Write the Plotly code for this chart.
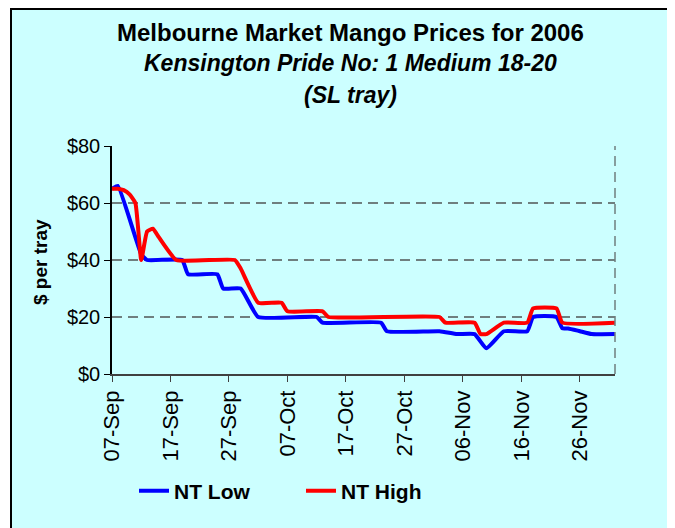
import plotly.graph_objects as go

CYAN = "#CCFFFF"
BLUE = "#0000FF"
RED = "#FF0000"
GRID = "#6F7F7F"

low_dates = ["2006-09-07", "2006-09-08", "2006-09-12", "2006-09-13", "2006-09-19",
             "2006-09-20", "2006-09-25", "2006-09-26", "2006-09-29", "2006-10-02",
             "2006-10-12", "2006-10-13", "2006-10-23", "2006-10-24", "2006-11-02",
             "2006-11-05", "2006-11-08", "2006-11-10", "2006-11-13", "2006-11-17",
             "2006-11-18", "2006-11-22", "2006-11-23", "2006-11-24", "2006-11-26",
             "2006-11-28", "2006-12-02"]
low_prices = [65, 66, 42, 40, 40,
              35, 35, 30, 30, 20,
              20, 18, 18, 15, 15,
              14, 14, 9, 15, 15,
              20, 20, 16, 16, 15,
              14, 14]

high_dates = ["2006-09-07", "2006-09-08", "2006-09-09", "2006-09-10", "2006-09-11",
              "2006-09-12", "2006-09-13", "2006-09-14", "2006-09-15", "2006-09-18",
              "2006-09-28", "2006-09-29", "2006-10-02", "2006-10-06", "2006-10-07",
              "2006-10-13", "2006-10-14", "2006-11-02", "2006-11-03", "2006-11-08",
              "2006-11-09", "2006-11-10", "2006-11-13", "2006-11-17", "2006-11-18",
              "2006-11-22", "2006-11-23", "2006-12-02"]
high_prices = [65, 65, 64.5, 63, 60,
               40, 50, 51, 48, 40,
               40, 37, 25, 25, 22,
               22, 20, 20, 18, 18,
               14, 14, 18, 18, 23,
               23, 18, 18]

tick_dates = ["2006-09-07", "2006-09-17", "2006-09-27", "2006-10-07", "2006-10-17",
              "2006-10-27", "2006-11-06", "2006-11-16", "2006-11-26"]
tick_labels = ["07-Sep", "17-Sep", "27-Sep", "07-Oct", "17-Oct",
               "27-Oct", "06-Nov", "16-Nov", "26-Nov"]
y_ticks = [0, 20, 40, 60, 80]
y_labels = ["$0", "$20", "$40", "$60", "$80"]

title_lines = ["<b>Melbourne Market Mango Prices for 2006</b>",
               "<b><i>Kensington Pride No: 1 Medium 18-20</i></b>",
               "<b><i>(SL tray)</i></b>"]

FONT = "Liberation Sans, Arial"
W, H = 675, 528
OFF = 8  # page body margin: screen px = figure px + 8
# plot area on screen: x 112..615, y 146..374
L, T = 112 - OFF, 146 - OFF
R, B = W - (615 - OFF), H - (374 - OFF)
PW, PH = W - L - R, H - T - B


def px_x(sx):
    return (sx - OFF - L) / PW


def px_y(sy):
    return 1 - (sy - OFF - T) / PH


fig = go.Figure()

fig.add_trace(go.Scatter(
    x=low_dates, y=low_prices, name="<b>NT Low</b>", mode="lines",
    line=dict(color=BLUE, width=4, shape="spline", smoothing=0.4),
))
fig.add_trace(go.Scatter(
    x=high_dates, y=high_prices, name="<b>NT High</b>", mode="lines",
    line=dict(color=RED, width=4, shape="spline", smoothing=0.4),
))

# cyan chart box with black frame
fig.add_shape(type="rect", xref="paper", yref="paper", layer="below",
              x0=px_x(11), x1=px_x(674), y0=px_y(545), y1=px_y(9),
              fillcolor=CYAN, line=dict(color="black", width=2))
# dashed right border of the plot area
fig.add_shape(type="line", xref="paper", yref="paper",
              x0=1, x1=1, y0=0, y1=1,
              line=dict(color=GRID, width=1.5, dash="10px,6px"))

for i, (txt, yy) in enumerate(zip(title_lines, [32, 63, 95])):
    fig.add_annotation(text=txt, xref="paper", yref="paper",
                       x=px_x(350), y=px_y(yy),
                       xanchor="center", yanchor="middle", showarrow=False,
                       font=dict(size=24 if i == 0 else 23, color="black", family=FONT))

fig.add_annotation(text="<b>$ per tray</b>", xref="paper", yref="paper",
                   x=px_x(40), y=px_y(262), textangle=-90,
                   xanchor="center", yanchor="middle", showarrow=False,
                   font=dict(size=19, color="black", family=FONT))

fig.update_layout(
    width=W, height=H,
    margin=dict(l=L, r=R, t=T, b=B, autoexpand=False),
    paper_bgcolor="white", plot_bgcolor="rgba(0,0,0,0)",
    font=dict(family=FONT, color="black"),
    showlegend=True,
    legend=dict(orientation="h", x=px_x(134), y=px_y(491),
                xanchor="left", yanchor="middle", bgcolor="rgba(0,0,0,0)",
                font=dict(size=21), entrywidth=122, entrywidthmode="pixels"),
)

fig.update_xaxes(
    type="date", range=["2006-09-07", "2006-12-02"],
    tickvals=tick_dates, ticktext=tick_labels,
    tickangle=-90, tickfont=dict(size=22),
    ticks="outside", ticklen=6, tickcolor="#404040",
    showline=True, linecolor="#404040", linewidth=1.5,
    showgrid=False, zeroline=False,
)
fig.update_yaxes(
    range=[0, 80], tickvals=y_ticks, ticktext=y_labels,
    tickfont=dict(size=20), ticks="outside", ticklen=6, tickcolor="black",
    showline=True, linecolor="black", linewidth=1.5,
    showgrid=True, gridcolor=GRID, gridwidth=1.5, griddash="10px,6px",
    zeroline=False,
)

fig.write_html("out.html")
